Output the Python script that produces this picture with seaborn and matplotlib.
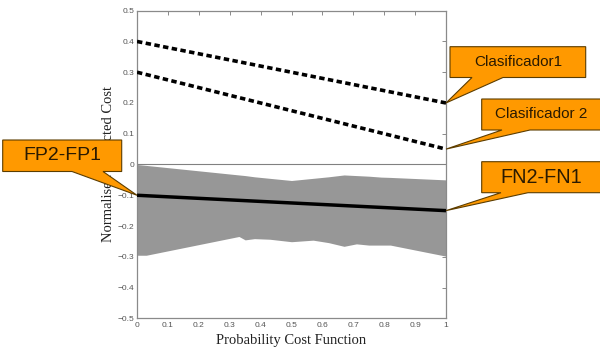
import numpy as np
import pandas as pd
import matplotlib
matplotlib.use("Agg")
import matplotlib.pyplot as plt
import seaborn as sns
from matplotlib.patches import Polygon

# ---------------- data ----------------
pcf = [0.0, 1.0]
clasificador1 = [0.40, 0.20]
clasificador2 = [0.30, 0.05]
diff_line = [-0.10, -0.15]

band_x = [0.0, 0.03, 0.33, 0.35, 0.38, 0.43, 0.50, 0.57, 0.62, 0.67, 0.71, 0.75, 0.79, 0.82, 1.0]
band_upper = [0.0, -0.003, -0.034, -0.036, -0.040, -0.045, -0.052, -0.045, -0.040, -0.034,
              -0.036, -0.038, -0.041, -0.042, -0.050]
band_lower = [-0.295, -0.295, -0.234, -0.245, -0.241, -0.243, -0.251, -0.246, -0.254, -0.266,
              -0.258, -0.262, -0.262, -0.262, -0.298]

x_ticks = [0, 0.1, 0.2, 0.3, 0.4, 0.5, 0.6, 0.7, 0.8, 0.9, 1.0]
x_tick_labels = ["0", "0.1", "0.2", "0.3", "0.4", "0.5", "0.6", "0.7", "0.8", "0.9", "1"]
y_ticks = [-0.5, -0.4, -0.3, -0.2, -0.1, 0, 0.1, 0.2, 0.3, 0.4, 0.5]
y_tick_labels = ["\u22120.5", "\u22120.4", "\u22120.3", "\u22120.2", "\u22120.1", "0",
                 "0.1", "0.2", "0.3", "0.4", "0.5"]

x_label = "Probability Cost Function"
y_label = "Normalised Expected Cost"

callout_texts = ["Clasificador1", "Clasificador 2", "FN2-FN1", "FP2-FP1"]

df_lines = pd.DataFrame({
    "pcf": pcf * 3,
    "cost": clasificador1 + clasificador2 + diff_line,
    "serie": ["c1"] * 2 + ["c2"] * 2 + ["diff"] * 2,
})

# ---------------- figure ----------------
sns.set_theme(style="white")
W, H = 600, 354
fig = plt.figure(figsize=(W / 100, H / 100), dpi=100)
fig.patch.set_facecolor("white")
ax = fig.add_axes([137 / W, 1 - 318.3 / H, (446 - 137) / W, (318.3 - 10.7) / H])

# band
ax.fill_between(band_x, band_upper, band_lower, color="#979797", linewidth=0, zorder=1)

# zero line
ax.axhline(0, color="#808080", lw=0.8, zorder=1.5)

dash = (1.5, 0.95)
sns.lineplot(data=df_lines[df_lines.serie == "c1"], x="pcf", y="cost", ax=ax,
             color="black", lw=2.6, dashes=False, linestyle=(0, dash), zorder=3)
sns.lineplot(data=df_lines[df_lines.serie == "c2"], x="pcf", y="cost", ax=ax,
             color="black", lw=2.6, dashes=False, linestyle=(0, dash), zorder=3)
sns.lineplot(data=df_lines[df_lines.serie == "diff"], x="pcf", y="cost", ax=ax,
             color="black", lw=2.5, zorder=3)
for ln in ax.get_lines():
    ln.set_solid_capstyle("butt")
    ln.set_dash_capstyle("butt")

ax.set_xlim(0, 1)
ax.set_ylim(-0.5, 0.5)
ax.set_xticks(x_ticks)
ax.set_xticklabels(x_tick_labels)
ax.set_yticks(y_ticks)
ax.set_yticklabels(y_tick_labels)
ax.tick_params(axis="both", direction="in", length=3, width=0.6, color="#777777",
               labelsize=6, labelcolor="#555555", top=True, right=True,
               labeltop=False, labelright=False)
ax.tick_params(axis="x", pad=3)
ax.tick_params(axis="y", pad=2)
for lab in ax.get_xticklabels() + ax.get_yticklabels():
    lab.set_fontfamily("Liberation Sans")
for sp in ax.spines.values():
    sp.set_visible(True)
    sp.set_color("#8a8a8a")
    sp.set_linewidth(0.9)

ax.set_xlabel(x_label, fontfamily="Liberation Serif", fontsize=10.5, color="#222222")
ax.set_ylabel(y_label, fontfamily="Liberation Serif", fontsize=10.5, color="#222222")
ax.xaxis.set_label_coords(0.5, -0.052)
ax.yaxis.set_label_coords(-0.072, 0.5)
ax.grid(False)


# ---------------- callouts ----------------
def fig_frac(px, py):
    return (px / W, 1 - py / H)


def callout(text, box, base, tip_data, fontsize):
    x0, y0, x1, y1 = box
    tip_disp = ax.transData.transform(tip_data)
    tip = fig.transFigure.inverted().transform(tip_disp)
    bx0, bx1 = base
    pts = [fig_frac(x0, y0), fig_frac(x1, y0), fig_frac(x1, y1), fig_frac(bx1, y1),
           tuple(tip), fig_frac(bx0, y1), fig_frac(x0, y1)]
    poly = Polygon(pts, closed=True, transform=fig.transFigure, facecolor="#FF9900",
                   edgecolor="#5c3d00", lw=0.8, clip_on=False, zorder=5)
    fig.add_artist(poly)
    cx, cy = fig_frac((x0 + min(x1, W)) / 2, (y0 + y1) / 2)
    fig.text(cx, cy, text, ha="center", va="center", fontsize=fontsize,
             fontfamily="Liberation Sans", color="#2a1a00", zorder=6)


callout(callout_texts[0], (450, 46.7, 585.7, 77.5), (472, 503), (pcf[1], clasificador1[1]), 11)
callout(callout_texts[1], (481.7, 99, 601, 130), (502, 530), (pcf[1], clasificador2[1]), 11)
callout(callout_texts[2], (481.7, 161.7, 601, 192.7), (501, 528), (pcf[1], diff_line[1]), 14.3)
callout(callout_texts[3], (2.7, 140, 121.7, 171.5), (72, 103), (pcf[0], diff_line[0]), 14)

fig.savefig("out.png", dpi=100)
